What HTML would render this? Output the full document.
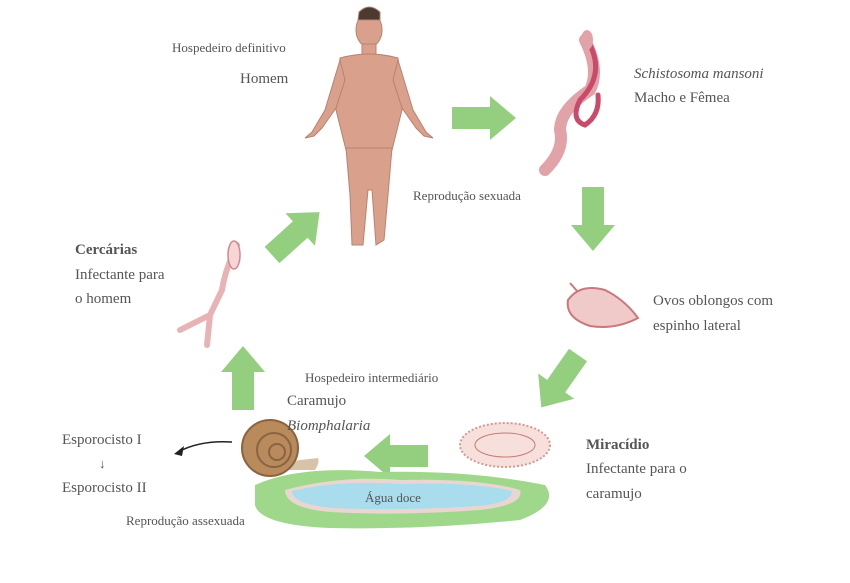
<!DOCTYPE html>
<html><head><meta charset="utf-8"><style>
html,body{margin:0;padding:0;background:#fff;}
svg{display:block;}
text{font-family:"Liberation Serif",serif;fill:#555;}
</style></head><body>
<svg width="850" height="583" viewBox="0 0 850 583">
<defs>
<g id="arr"><polygon points="0,-11 38,-11 38,-22 64,0 38,22 38,11 0,11" fill="#94cf7f"/></g>
</defs>
<!-- arrows -->
<use href="#arr" transform="translate(452,118)"/>
<use href="#arr" transform="translate(593,187) rotate(90)"/>
<use href="#arr" transform="translate(578,355) rotate(125)"/>
<use href="#arr" transform="translate(428,456) rotate(180)"/>
<use href="#arr" transform="translate(243,410) rotate(-90)"/>
<use href="#arr" transform="translate(272,255) rotate(-42)"/>
<!-- human -->
<g fill="#d9a18c" stroke="#b98270" stroke-width="1">
<ellipse cx="369" cy="30" rx="13" ry="17"/>
<path d="M359,12 Q369,2 380,12 L380,20 L358,20 Z" fill="#4a3a30"/>
<rect x="362" y="44" width="14" height="12"/>
<path d="M340,58 Q369,50 398,58 L402,110 L392,150 L346,150 L336,110 Z"/>
<path d="M340,60 L325,110 L312,132 L305,138 L314,136 L322,128 L336,108 L345,80 Z"/>
<path d="M398,60 L413,110 L426,132 L433,138 L424,136 L416,128 L402,108 L393,80 Z"/>
<path d="M346,148 L392,148 L388,195 L384,240 L376,245 L372,190 L368,190 L363,245 L352,245 L350,195 Z"/>
</g>
<!-- worm -->
<g fill="none" stroke-linecap="round">
<path d="M585,40 Q600,70 590,90 Q560,110 560,130 Q565,150 545,170" stroke="#e2a3a8" stroke-width="12"/>
<path d="M590,45 Q605,75 580,100 Q570,120 585,125 Q600,115 598,95" stroke="#c94a6a" stroke-width="5"/>
<ellipse cx="587" cy="40" rx="6" ry="10" fill="#e2a3a8"/>
</g>
<!-- egg -->
<g>
<path d="M568,300 Q580,283 605,290 Q625,300 638,318 Q615,330 590,326 Q565,318 568,300 Z" fill="#f0c9c9" stroke="#c9797c" stroke-width="2"/>
<path d="M578,292 L570,283" stroke="#c9797c" stroke-width="2"/>
</g>
<!-- cercaria -->
<g fill="none" stroke="#e8b3b5" stroke-width="6" stroke-linecap="round">
<path d="M237,245 Q225,270 222,290 L210,315 M210,315 L180,330 M210,315 L207,345"/>
<ellipse cx="234" cy="255" rx="6" ry="14" fill="#f5d5d5" stroke="#d08a8e" stroke-width="1.5"/>
</g>
<!-- miracidium -->
<g>
<ellipse cx="505" cy="445" rx="45" ry="22" fill="#f7e0dc" stroke="#d59892" stroke-width="2" stroke-dasharray="2,2"/>
<ellipse cx="505" cy="445" rx="30" ry="12" fill="none" stroke="#c47b77" stroke-width="1"/>
</g>
<!-- water -->
<g>
<path d="M255,485 Q300,465 380,472 Q470,470 545,485 Q560,505 520,520 Q420,530 330,528 Q260,525 255,505 Z" fill="#9fd88a"/>
<path d="M285,490 Q340,475 400,480 Q480,478 520,490 Q525,505 480,510 Q400,516 330,512 Q285,508 285,490 Z" fill="#e8d6d0"/>
<path d="M292,491 Q340,480 400,484 Q475,482 512,491 Q512,503 478,506 Q400,511 333,508 Q292,504 292,491 Z" fill="#a9dcec"/>
</g>
<!-- snail -->
<g>
<path d="M250,470 L315,470 Q320,462 318,458 L300,460 Z" fill="#d9c3a8"/>
<circle cx="270" cy="448" r="28" fill="#b88a5c" stroke="#8a6440" stroke-width="2"/>
<circle cx="274" cy="450" r="17" fill="none" stroke="#8a6440" stroke-width="2"/>
<circle cx="277" cy="452" r="8" fill="none" stroke="#8a6440" stroke-width="2"/>
</g>
<path d="M232,442 Q200,440 178,452" fill="none" stroke="#222" stroke-width="1.5"/>
<polygon points="174,454 184,446 182,456" fill="#222"/>
<!-- texts -->
<text x="172" y="52" font-size="13">Hospedeiro definitivo</text>
<text x="240" y="83" font-size="15">Homem</text>
<text x="634" y="78" font-size="15" font-style="italic">Schistosoma mansoni</text>
<text x="634" y="102" font-size="15">Macho e Fêmea</text>
<text x="413" y="200" font-size="13">Reprodução sexuada</text>
<text x="75" y="254" font-size="15" font-weight="bold" fill="#333">Cercárias</text>
<text x="75" y="279" font-size="15">Infectante para</text>
<text x="75" y="303" font-size="15">o homem</text>
<text x="653" y="305" font-size="15">Ovos oblongos com</text>
<text x="653" y="330" font-size="15">espinho lateral</text>
<text x="305" y="382" font-size="13">Hospedeiro intermediário</text>
<text x="287" y="405" font-size="15">Caramujo</text>
<text x="287" y="430" font-size="15" font-style="italic">Biomphalaria</text>
<text x="586" y="449" font-size="15" font-weight="bold" fill="#333">Miracídio</text>
<text x="586" y="473" font-size="15">Infectante para o</text>
<text x="586" y="498" font-size="15">caramujo</text>
<text x="62" y="444" font-size="15">Esporocisto I</text>
<text x="99" y="468" font-size="13" fill="#222">↓</text>
<text x="62" y="492" font-size="15">Esporocisto II</text>
<text x="126" y="525" font-size="13">Reprodução assexuada</text>
<text x="365" y="502" font-size="13" fill="#444">Água doce</text>
</svg>
</body></html>
